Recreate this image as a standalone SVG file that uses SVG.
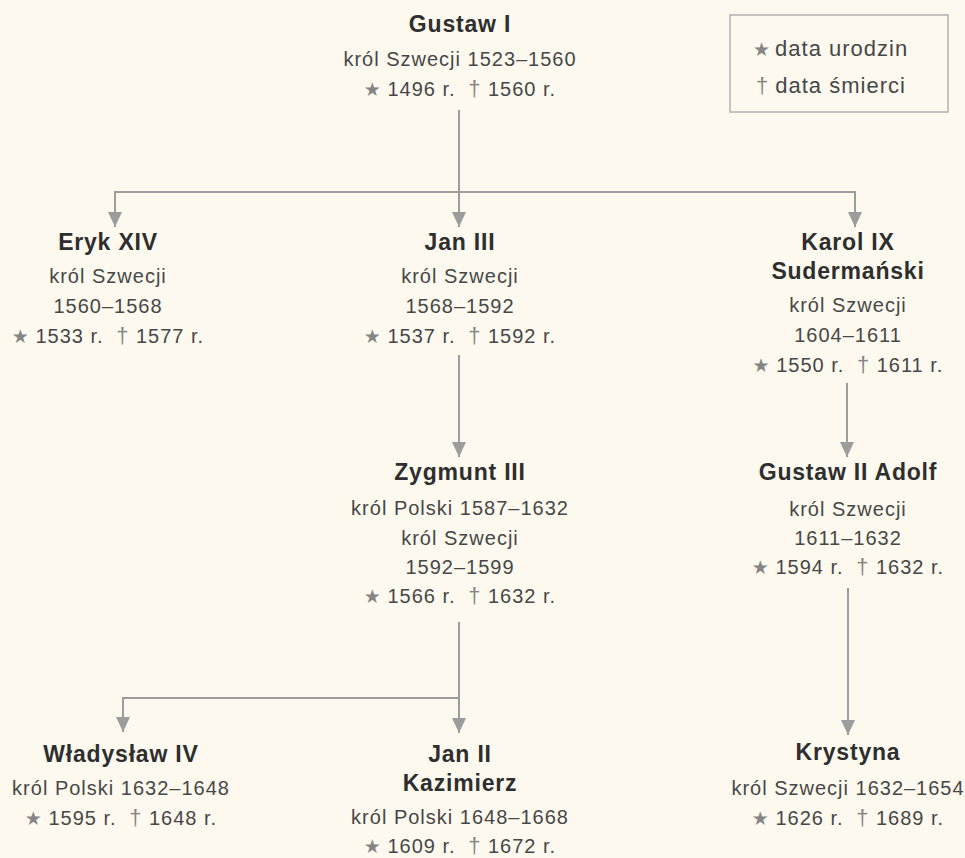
<svg xmlns="http://www.w3.org/2000/svg" width="965" height="858" viewBox="0 0 965 858">
<style>
text{font-family:"Liberation Sans",Arial,sans-serif;text-anchor:middle}
.t{font-size:23px;font-weight:bold;fill:#2e2e2e;letter-spacing:0.8px}
.b{font-size:20px;fill:#474747;letter-spacing:1px}
.s{font-family:"DejaVu Sans",sans-serif;font-size:19px;fill:#858585;letter-spacing:0}
.d{fill:#858585;font-size:22px}
.lg{font-size:22px;fill:#474747;letter-spacing:1px;text-anchor:start}
.c{stroke:#9c9c9c;stroke-width:2;fill:none}
</style>
<defs>
<marker id="a" markerUnits="userSpaceOnUse" markerWidth="16" markerHeight="16" viewBox="0 0 16 16" refX="15" refY="8" orient="auto">
<path d="M0,1 L15,8 L0,15 Z" fill="#9c9c9c"/>
</marker>
</defs>
<rect width="965" height="858" fill="#fdf9ef"/>
<g id="connectors">
<path class="c" d="M459,110 V227" marker-end="url(#a)"/>
<path class="c" d="M115,192 H855"/>
<path class="c" d="M115,191 V227" marker-end="url(#a)"/>
<path class="c" d="M855,191 V227" marker-end="url(#a)"/>
<path class="c" d="M459,355 V457" marker-end="url(#a)"/>
<path class="c" d="M847,383 V457" marker-end="url(#a)"/>
<path class="c" d="M459,622 V733" marker-end="url(#a)"/>
<path class="c" d="M459,698 H123 V732" marker-end="url(#a)"/>
<path class="c" d="M848,588 V735" marker-end="url(#a)"/>
</g>
<g id="legend">
<rect x="730" y="15" width="218" height="97" fill="none" stroke="#b0b0b0" stroke-width="1.5"/>
<text class="lg" x="753" y="56"><tspan class="s">★</tspan><tspan dx="5">data urodzin</tspan></text>
<text class="lg" x="756" y="93"><tspan class="d">†</tspan><tspan dx="6">data śmierci</tspan></text>
</g>
<g id="gustaw1">
<text class="t" x="460" y="32">Gustaw I</text>
<text class="b" x="460" y="66">król Szwecji 1523–1560</text>
<text class="b" x="460" y="96"><tspan class="s">★</tspan> 1496 r. <tspan class="d" dx="6">†</tspan> 1560 r.</text>
</g>
<g id="eryk14">
<text class="t" x="108" y="250">Eryk XIV</text>
<text class="b" x="108" y="283">król Szwecji</text>
<text class="b" x="108" y="313">1560–1568</text>
<text class="b" x="108" y="343"><tspan class="s">★</tspan> 1533 r. <tspan class="d" dx="6">†</tspan> 1577 r.</text>
</g>
<g id="jan3">
<text class="t" x="460" y="250">Jan III</text>
<text class="b" x="460" y="283">król Szwecji</text>
<text class="b" x="460" y="313">1568–1592</text>
<text class="b" x="460" y="343"><tspan class="s">★</tspan> 1537 r. <tspan class="d" dx="6">†</tspan> 1592 r.</text>
</g>
<g id="karol9">
<text class="t" x="848" y="250">Karol IX</text>
<text class="t" x="848" y="279">Sudermański</text>
<text class="b" x="848" y="312">król Szwecji</text>
<text class="b" x="848" y="342">1604–1611</text>
<text class="b" x="848" y="372"><tspan class="s">★</tspan> 1550 r. <tspan class="d" dx="6">†</tspan> 1611 r.</text>
</g>
<g id="zygmunt3">
<text class="t" x="460" y="480">Zygmunt III</text>
<text class="b" x="460" y="515">król Polski 1587–1632</text>
<text class="b" x="460" y="545">król Szwecji</text>
<text class="b" x="460" y="574">1592–1599</text>
<text class="b" x="460" y="603"><tspan class="s">★</tspan> 1566 r. <tspan class="d" dx="6">†</tspan> 1632 r.</text>
</g>
<g id="gustaw2adolf">
<text class="t" x="848" y="480">Gustaw II Adolf</text>
<text class="b" x="848" y="516">król Szwecji</text>
<text class="b" x="848" y="545">1611–1632</text>
<text class="b" x="848" y="574"><tspan class="s">★</tspan> 1594 r. <tspan class="d" dx="6">†</tspan> 1632 r.</text>
</g>
<g id="wladyslaw4">
<text class="t" x="121" y="762">Władysław IV</text>
<text class="b" x="121" y="795">król Polski 1632–1648</text>
<text class="b" x="121" y="825"><tspan class="s">★</tspan> 1595 r. <tspan class="d" dx="6">†</tspan> 1648 r.</text>
</g>
<g id="jan2kazimierz">
<text class="t" x="460" y="762">Jan II</text>
<text class="t" x="460" y="791">Kazimierz</text>
<text class="b" x="460" y="824">król Polski 1648–1668</text>
<text class="b" x="460" y="853"><tspan class="s">★</tspan> 1609 r. <tspan class="d" dx="6">†</tspan> 1672 r.</text>
</g>
<g id="krystyna">
<text class="t" x="848" y="760">Krystyna</text>
<text class="b" x="848" y="795">król Szwecji 1632–1654</text>
<text class="b" x="848" y="825"><tspan class="s">★</tspan> 1626 r. <tspan class="d" dx="6">†</tspan> 1689 r.</text>
</g>
</svg>
